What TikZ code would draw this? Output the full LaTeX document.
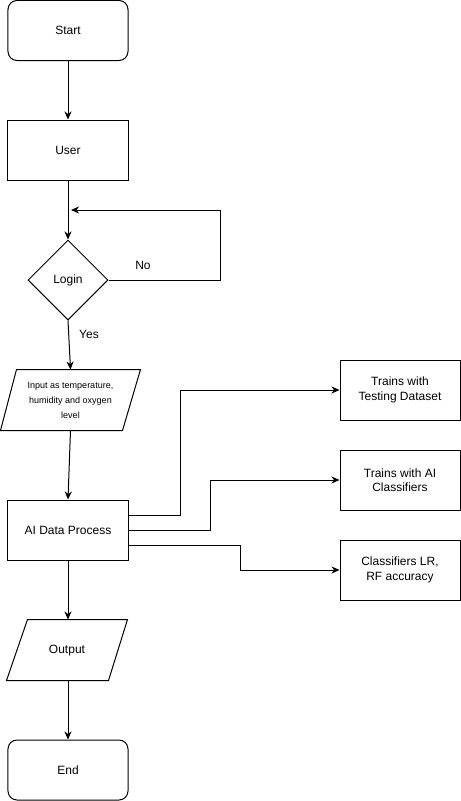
\documentclass[tikz,border=0pt]{standalone}
\usepackage{fontspec}
\setmainfont{Liberation Sans}
\usetikzlibrary{shapes.geometric,arrows.meta,calc}
\begin{document}
\begin{tikzpicture}[x=1bp,y=-1bp,
  line width=1bp,
  every node/.style={font=\fontsize{12bp}{14.5bp}\selectfont, align=center},
  box/.style={draw, minimum width=120bp, minimum height=60bp, inner sep=0pt},
  term/.style={box, rounded corners=9bp},
  slant/.style={minimum height=60bp, inner sep=0pt},
  small/.style={font=\fontsize{9bp}{15bp}\selectfont},
  decision/.style={draw, diamond, minimum width=80bp, minimum height=80bp, inner sep=0pt},
  arr/.style={-{Stealth[length=8bp,width=7bp,inset=2.5bp]}},
  lbl/.style={inner sep=0pt}
]
\useasboundingbox (0,0) rectangle (461,801);

% main column
\node[term] (start) at (68,30.5) {Start};
\node[box] (user) at (68,150) {User};
\node[decision] (login) at (68,280) {Login};
\node[slant, small, minimum width=139bp] (input) at (70.5,400)
  {Input as temperature,\\humidity and oxygen\\level};
\node[box] (ai) at (68,530) {AI Data Process};
\node[slant, minimum width=120bp] (output) at (67,651) {Output};
\node[term] (end) at (68,770) {End};

% parallelogram outlines
\draw ($(input.north west)+(16,0)$) -- (input.north east)
      -- ($(input.south east)+(-18,0)$) -- (input.south west) -- cycle;
\draw ($(output.north west)+(21,-1)$) -- ($(output.north east)+(0,-1)$)
      -- ($(output.south east)+(-19,-1)$) -- ($(output.south west)+(0,-1)$) -- cycle;

% right column
\node[box] (t1) at (400,390) {Trains with\\Testing Dataset};
\node[box] (t2) at (400,480) {Trains with AI\\Classifiers};
\node[box] (t3) at (400,570) {Classifiers LR,\\RF accuracy};

% flow
\draw[arr] (start) -- (user);
\draw[arr] (user) -- (login);
\coordinate (retry) at (71,210);
\draw[arr] (login.east) -- (220,280) |- (retry);
\node[lbl] (no) at (143,265) {No};
\draw[arr] (login.south) -- (input.north);
\node[lbl] (yes) at (89,334) {Yes};
\draw[arr] (input.south) -- (ai.north);
\draw[arr] ($(ai.east)+(0,-15)$) -- ++(52,0) |- (t1.west);
\draw[arr] (ai.east) -- ++(82,0) |- (t2.west);
\draw[arr] ($(ai.east)+(0,15)$) -- ++(112,0) |- (t3.west);
\draw[arr] (ai.south) -- ($(ai.south |- output.north)+(0,-1)$);
\draw[arr] ($(end.north |- output.south)+(0,-1)$) -- (end.north);
\end{tikzpicture}
\end{document}
